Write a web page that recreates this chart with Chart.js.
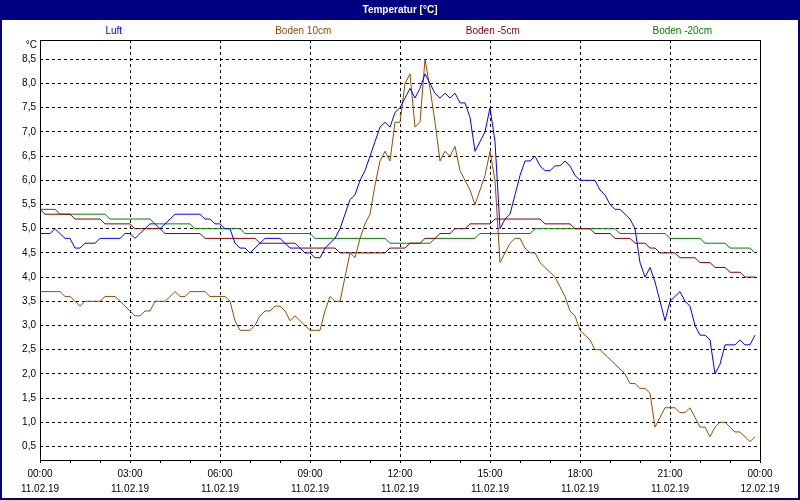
<!DOCTYPE html>
<html>
<head>
<meta charset="utf-8">
<script src="https://cdn.jsdelivr.net/npm/chart.js@4.4.0/dist/chart.umd.min.js"></script>
<style>
  html, body { margin: 0; padding: 0; background: #fff; }
  #wrap { width: 800px; height: 500px; }
</style>
</head>
<body>
<div id="wrap"><canvas id="chart" width="800" height="500"></canvas></div>
<script>
const TITLE = 'Temperatur [°C]';
const UNIT = '°C';
const seriesNames = ['Luft', 'Boden 10cm', 'Boden -5cm', 'Boden -20cm'];
const seriesColors = ['#0000ff', '#964b00', '#800000', '#008000'];

// one value every 10 minutes, 11.02.19 00:00 .. 23:50
const STEP_MIN = 10;
const luft = [
  4.9,4.9,4.9,5.0,4.9,4.8,4.8,4.6,4.6,4.7,4.7,4.7,
  4.8,4.8,4.8,4.8,4.8,4.9,4.9,4.8,4.9,5.0,5.1,5.1,
  5.0,5.1,5.2,5.3,5.3,5.3,5.3,5.3,5.3,5.2,5.2,5.1,
  5.1,5.0,5.0,4.7,4.6,4.6,4.5,4.6,4.7,4.8,4.8,4.8,
  4.8,4.7,4.6,4.6,4.6,4.5,4.5,4.4,4.4,4.6,4.7,4.8,
  5.0,5.3,5.6,5.7,6.0,6.2,6.5,6.8,7.1,7.2,7.1,7.4,
  7.5,7.7,7.9,7.7,7.9,8.2,8.0,7.8,7.7,7.8,7.7,7.8,
  7.6,7.6,7.3,6.6,6.8,7.0,7.5,6.8,5.0,5.2,5.3,5.7,
  6.1,6.4,6.4,6.5,6.3,6.2,6.2,6.3,6.3,6.4,6.3,6.1,
  6.0,6.0,6.0,6.0,5.8,5.7,5.5,5.4,5.4,5.3,5.2,5.0,
  4.3,4.0,4.2,3.9,3.5,3.1,3.5,3.6,3.7,3.5,3.4,3.0,
  2.8,2.8,2.7,2.0,2.2,2.6,2.6,2.6,2.7,2.6,2.6,2.8
];
const boden10 = [
  3.7,3.7,3.7,3.7,3.7,3.6,3.6,3.5,3.4,3.5,3.5,3.5,
  3.5,3.6,3.6,3.6,3.5,3.4,3.3,3.2,3.2,3.3,3.3,3.5,
  3.5,3.5,3.6,3.7,3.6,3.6,3.7,3.7,3.7,3.7,3.6,3.6,
  3.6,3.6,3.5,3.1,2.9,2.9,2.9,3.0,3.2,3.3,3.3,3.4,
  3.4,3.3,3.1,3.2,3.1,3.0,2.9,2.9,2.9,3.3,3.6,3.5,
  3.5,4.0,4.5,4.4,4.8,5.1,5.3,5.9,6.4,6.6,6.4,7.2,
  7.2,8.0,8.2,7.1,7.2,8.5,7.9,7.2,6.4,6.6,6.5,6.7,
  6.2,6.0,5.8,5.5,5.8,6.1,6.6,6.0,4.3,4.5,4.7,4.8,
  4.8,4.6,4.5,4.5,4.3,4.2,4.1,4.0,3.8,3.6,3.3,3.2,
  2.9,2.8,2.7,2.5,2.5,2.4,2.3,2.2,2.1,2.0,1.8,1.8,
  1.7,1.7,1.6,0.9,1.1,1.3,1.3,1.3,1.2,1.2,1.3,1.1,
  0.9,0.9,0.7,0.9,1.0,1.0,0.9,0.8,0.8,0.7,0.6,0.7
];
const bodenM5 = [
  5.4,5.3,5.3,5.3,5.3,5.3,5.3,5.2,5.2,5.2,5.2,5.2,
  5.2,5.1,5.1,5.1,5.1,5.1,5.1,5.0,5.0,5.0,5.0,5.0,
  5.0,4.9,4.9,4.9,4.9,4.9,4.9,4.9,4.9,4.8,4.8,4.8,
  4.8,4.8,4.8,4.8,4.8,4.8,4.8,4.8,4.7,4.7,4.7,4.7,
  4.7,4.7,4.7,4.7,4.6,4.6,4.6,4.6,4.6,4.6,4.6,4.6,
  4.5,4.5,4.5,4.5,4.5,4.5,4.5,4.5,4.5,4.5,4.6,4.6,
  4.6,4.6,4.7,4.7,4.7,4.8,4.8,4.8,4.9,4.9,4.9,5.0,
  5.0,5.0,5.1,5.1,5.1,5.1,5.1,5.2,5.2,5.2,5.2,5.2,
  5.2,5.2,5.2,5.2,5.2,5.1,5.1,5.1,5.1,5.1,5.1,5.0,
  5.0,5.0,5.0,4.9,4.9,4.9,4.9,4.8,4.8,4.8,4.8,4.7,
  4.7,4.7,4.6,4.6,4.5,4.5,4.5,4.5,4.4,4.4,4.4,4.4,
  4.3,4.3,4.3,4.2,4.2,4.2,4.1,4.1,4.1,4.0,4.0,4.0
];
const bodenM20 = [
  5.4,5.4,5.4,5.4,5.3,5.3,5.3,5.3,5.3,5.3,5.3,5.3,
  5.3,5.3,5.2,5.2,5.2,5.2,5.2,5.2,5.2,5.2,5.2,5.1,
  5.1,5.1,5.1,5.1,5.1,5.1,5.1,5.0,5.0,5.0,5.0,5.0,
  5.0,5.0,5.0,5.0,5.0,4.9,4.9,4.9,4.9,4.9,4.9,4.9,
  4.9,4.9,4.9,4.9,4.9,4.9,4.9,4.8,4.8,4.8,4.8,4.8,
  4.8,4.8,4.8,4.8,4.8,4.8,4.8,4.8,4.8,4.8,4.7,4.7,
  4.7,4.7,4.7,4.7,4.7,4.7,4.7,4.8,4.8,4.8,4.8,4.8,
  4.8,4.8,4.8,4.8,4.9,4.9,4.9,4.9,4.9,4.9,4.9,4.9,
  4.9,4.9,4.9,5.0,5.0,5.0,5.0,5.0,5.0,5.0,5.0,5.0,
  5.0,5.0,5.0,5.0,5.0,5.0,5.0,5.0,4.9,4.9,4.9,4.9,
  4.9,4.9,4.9,4.9,4.9,4.9,4.8,4.8,4.8,4.8,4.8,4.8,
  4.8,4.7,4.7,4.7,4.7,4.7,4.6,4.6,4.6,4.6,4.6,4.5
];

// axis labels
const timeLabels = ['00:00','03:00','06:00','09:00','12:00','15:00','18:00','21:00','00:00'];
const dateLabels = ['11.02.19','11.02.19','11.02.19','11.02.19','11.02.19','11.02.19','11.02.19','11.02.19','12.02.19'];
const yTicks = [0.5,1.0,1.5,2.0,2.5,3.0,3.5,4.0,4.5,5.0,5.5,6.0,6.5,7.0,7.5,8.0,8.5];
const Y_MIN = 0.22, Y_MAX = 8.9;
const X_MAX = 1440;

const hourTicks = [];
for (let m = 0; m <= X_MAX; m += 60) hourTicks.push(m);

const FONT = '"Liberation Sans", Arial, sans-serif';

function toPoints(arr) {
  return arr.map((v, i) => ({ x: i * STEP_MIN, y: v }));
}

const frame = {
  id: 'frame',
  beforeDraw(chart) {
    const { ctx, width, height } = chart;
    ctx.save();
    ctx.fillStyle = '#fff';
    ctx.fillRect(0, 0, width, height);
    ctx.fillStyle = '#000080';
    ctx.fillRect(0, 0, width, 20);
    ctx.strokeStyle = '#000080';
    ctx.lineWidth = 2;
    ctx.strokeRect(1, 1, width - 2, height - 2);

    ctx.textBaseline = 'middle';
    ctx.textAlign = 'center';
    ctx.fillStyle = '#fff';
    ctx.font = 'bold 10px ' + FONT;
    ctx.fillText(TITLE, width / 2, 10);

    // series names across the top
    ctx.font = '10px ' + FONT;
    chart.data.datasets.forEach((ds, i) => {
      ctx.fillStyle = ds.borderColor;
      ctx.fillText(ds.label, 19 + 189.5 * (i + 0.5), 31);
    });

    ctx.textAlign = 'right';
    ctx.fillStyle = '#000';
    ctx.fillText(UNIT, 37, 45);
    ctx.restore();
  },
  afterDraw(chart) {
    const { ctx, chartArea: a } = chart;
    ctx.save();
    ctx.strokeStyle = '#000';
    ctx.lineWidth = 1;
    ctx.strokeRect(a.left + 0.5, a.top + 0.5, a.right - a.left, a.bottom - a.top);
    ctx.restore();
  }
};

const datasets = [luft, boden10, bodenM5, bodenM20].map((arr, i) => ({
  label: seriesNames[i],
  data: toPoints(arr),
  borderColor: seriesColors[i],
  backgroundColor: seriesColors[i],
  borderWidth: 1,
  pointRadius: 0,
  tension: 0,
  fill: false
}));

new Chart(document.getElementById('chart'), {
  type: 'line',
  data: { datasets },
  plugins: [frame],
  options: {
    responsive: false,
    animation: false,
    devicePixelRatio: 1,
    layout: { padding: { top: 40, right: 40, left: 0, bottom: 0 } },
    plugins: {
      legend: { display: false },
      title: { display: false },
      tooltip: { enabled: false }
    },
    scales: {
      x: {
        type: 'linear',
        min: 0,
        max: X_MAX,
        afterBuildTicks: s => { s.ticks = hourTicks.map(v => ({ value: v })); },
        afterFit: s => { s.height = 40; },
        border: { display: false, dash: [3, 3] },
        grid: {
          color: c => (c.tick && c.tick.value % 180 === 0) ? '#000' : 'rgba(0,0,0,0)',
          tickColor: '#000',
          tickLength: 3,
          lineWidth: 1
        },
        ticks: {
          autoSkip: false,
          maxRotation: 0,
          padding: 4,
          color: '#000',
          font: { family: FONT, size: 10, lineHeight: 1.5 },
          callback: v => v % 180 === 0 ? [timeLabels[v / 180], dateLabels[v / 180]] : ''
        }
      },
      y: {
        type: 'linear',
        min: Y_MIN,
        max: Y_MAX,
        afterBuildTicks: s => { s.ticks = yTicks.map(v => ({ value: v })); },
        afterFit: s => { s.width = 40; },
        border: { display: false, dash: [3, 3] },
        grid: { color: '#000', drawTicks: false, lineWidth: 1 },
        ticks: {
          padding: 4,
          color: '#000',
          font: { family: FONT, size: 10 },
          callback: v => v.toFixed(1).replace('.', ',')
        }
      }
    }
  }
});
</script>
</body>
</html>
